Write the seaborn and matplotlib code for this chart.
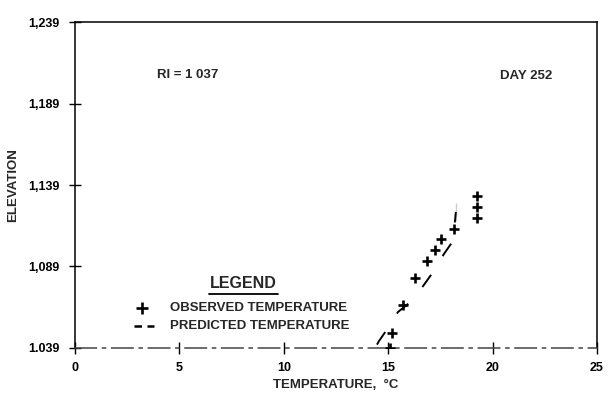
import matplotlib
matplotlib.use("Agg")
import matplotlib.pyplot as plt
import seaborn as sns
import pandas as pd
from matplotlib.lines import Line2D

# Observed water temperature profile (day 252)
obs_temp = [19.25, 19.25, 19.25, 18.15, 17.55, 17.25, 16.85, 16.3, 15.7, 15.2, 15.1]
obs_elev = [1132.4, 1125.7, 1118.6, 1112.0, 1105.9, 1098.9, 1092.4, 1081.8, 1065.4, 1048.0, 1039.0]

# Predicted temperature profile
pred_temp = [14.37, 14.56, 14.89, 15.47, 16.0, 16.67, 17.15, 17.67, 18.1, 18.24, 18.24]
pred_elev = [1039.0, 1043.3, 1049.4, 1061.1, 1066.6, 1077.0, 1085.6, 1096.7, 1104.6, 1116.9, 1128.0]

x_ticks = [0, 5, 10, 15, 20, 25]
y_ticks = [1039, 1089, 1139, 1189, 1239]
y_tick_labels = ["1.039", "1,089", "1,139", "1,189", "1,239"]

obs = pd.DataFrame({"temp": obs_temp, "elev": obs_elev})
pred = pd.DataFrame({"temp": pred_temp, "elev": pred_elev})

sns.set_theme(style="white")
plt.rcParams["font.family"] = ["Liberation Sans", "DejaVu Sans"]
plt.rcParams["font.weight"] = "bold"

fig = plt.figure(figsize=(6.09, 4.01), dpi=100)
ax = fig.add_axes([0.1232, 0.1322, 0.8571, 0.8129])

# dashed predicted profile: dash/gap/offset given in points, scaled by line width
lw = 1.4
dash_pt, gap_pt, off_pt = 10.8, 15.8, 23.8
sns.lineplot(data=pred, x="temp", y="elev", sort=False, ax=ax, color="black",
             linewidth=lw, linestyle=(off_pt / lw, (dash_pt / lw, gap_pt / lw)))
sns.scatterplot(data=obs, x="temp", y="elev", ax=ax, marker="+", s=45,
                color="black", linewidth=1.9, zorder=5)

ax.set_xlim(0, 25)
ax.set_ylim(1039, 1239)
ax.set_xticks(x_ticks)
ax.set_xticklabels([str(t) for t in x_ticks])
ax.set_yticks(y_ticks)
ax.set_yticklabels(y_tick_labels)
ax.tick_params(axis="both", direction="inout", length=8, width=1.0, color="black",
               labelsize=9, labelcolor="black")
ax.tick_params(axis="x", pad=6)
ax.tick_params(axis="y", pad=7)
ax.tick_params(bottom=True, left=True, top=False, right=False)

for name, sp in ax.spines.items():
    sp.set_visible(True)
    sp.set_color("black")
    sp.set_linewidth(1.1)
ax.spines["bottom"].set_linestyle((0, (14, 4, 2, 4)))
ax.spines["bottom"].set_color("#444444")

ax.set_xlabel("TEMPERATURE,  °C", fontsize=9.5, fontweight="bold", labelpad=4)
ax.set_ylabel("ELEVATION", fontsize=9.5, fontweight="bold", labelpad=7)

ax.text(0.2155, 0.837, "RI = 1 037", transform=ax.transAxes, fontsize=9.5,
        fontweight="bold", ha="center", va="center")
ax.text(0.864, 0.833, "DAY 252", transform=ax.transAxes, fontsize=9.5,
        fontweight="bold", ha="center", va="center")

# Hand-drawn style legend
ax.text(0.322, 0.198, "LEGEND", transform=ax.transAxes, fontsize=11.5,
        fontweight="bold", ha="center", va="center")
ax.add_line(Line2D([0.2565, 0.388], [0.165, 0.165], transform=ax.transAxes,
                   color="black", linewidth=1.3))
ax.plot([0.128], [0.123], transform=ax.transAxes, marker="+", markersize=8,
        markeredgewidth=1.9, color="black")
ax.text(0.182, 0.123, "OBSERVED TEMPERATURE", transform=ax.transAxes,
        fontsize=9.5, fontweight="bold", ha="left", va="center")
ax.add_line(Line2D([0.113, 0.152], [0.068, 0.068], transform=ax.transAxes,
                   color="black", linewidth=1.8, linestyle=(0, (3.0, 2.2))))
ax.text(0.182, 0.068, "PREDICTED TEMPERATURE", transform=ax.transAxes,
        fontsize=9.5, fontweight="bold", ha="left", va="center")

fig.savefig("out.png", dpi=100)
